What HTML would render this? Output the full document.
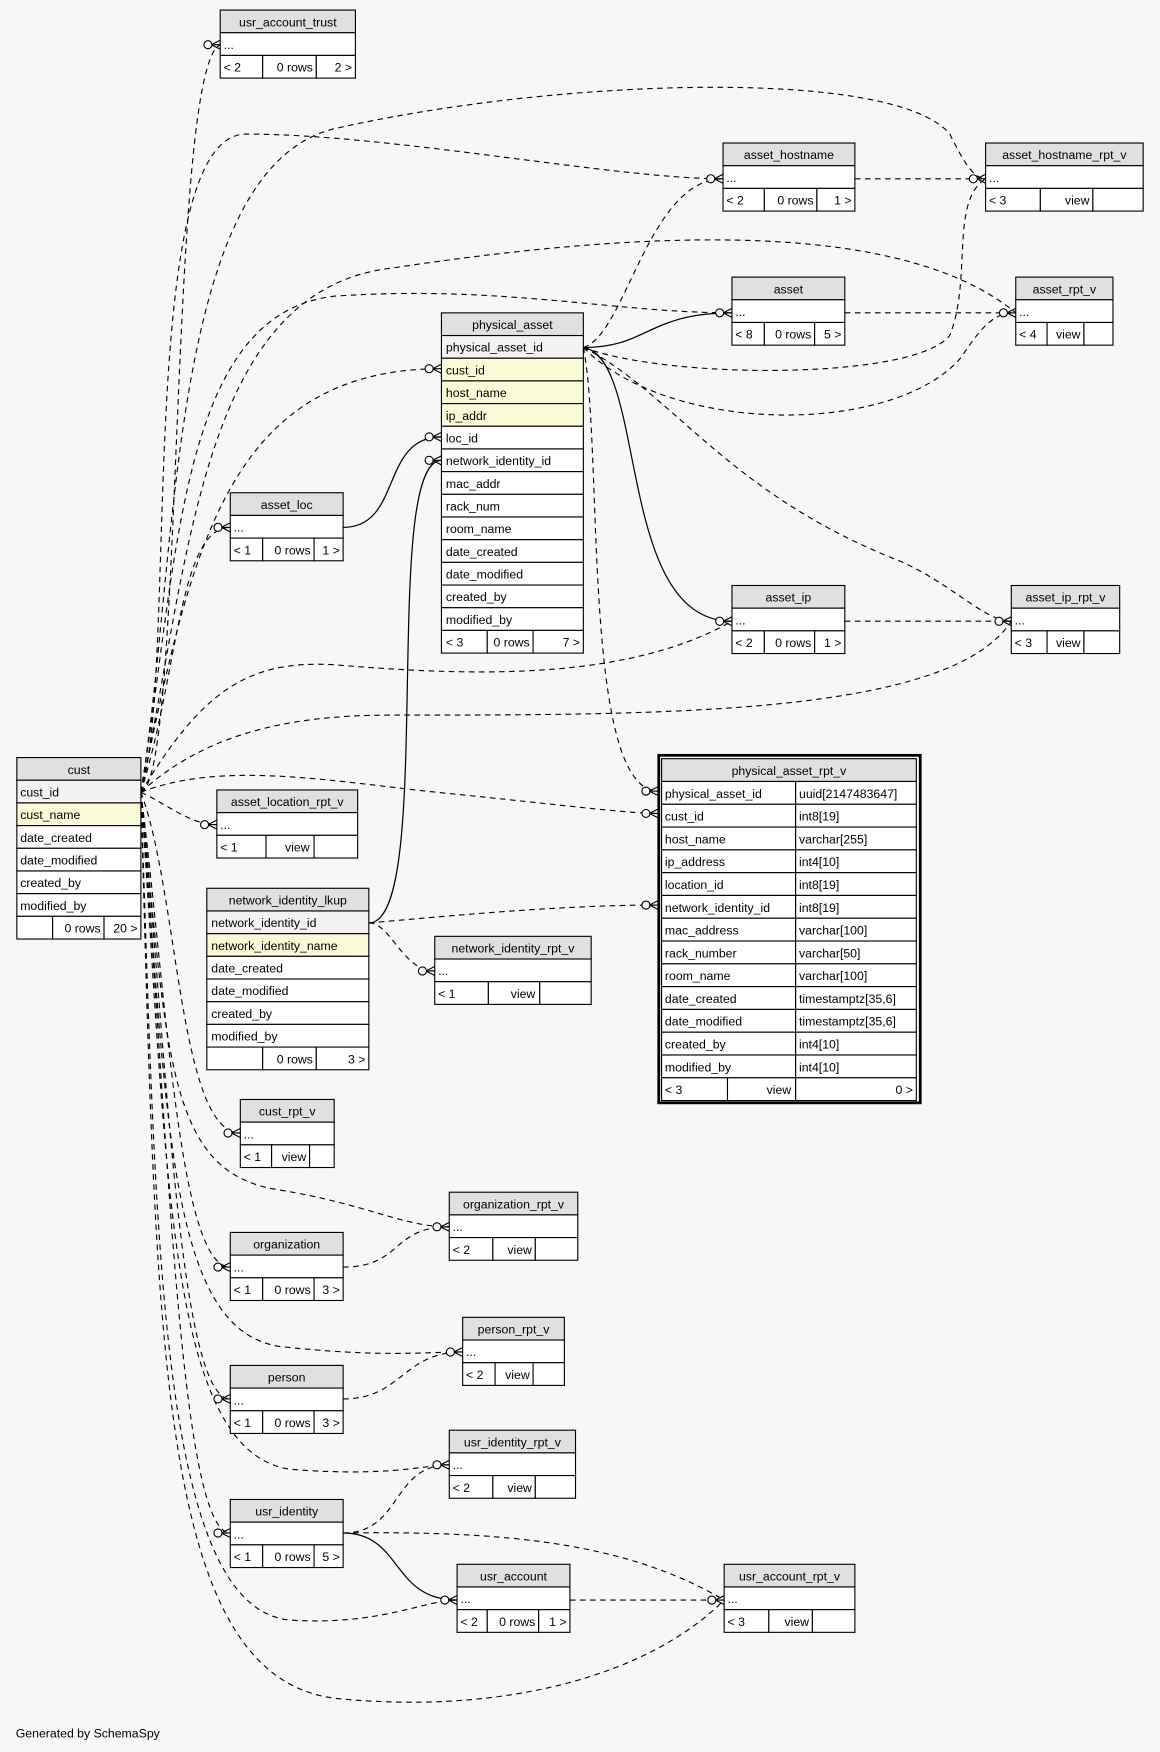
<!DOCTYPE html>
<html><head><meta charset="utf-8"><style>
html,body{margin:0;padding:0;background:#f7f7f7;}
svg{display:block}
text{font-family:"Liberation Sans",Arial,sans-serif;font-size:11px;fill:#000}
.h{fill:#e0e0e0;stroke:#000;stroke-width:1}
.w{fill:#fff;stroke:#000;stroke-width:1}
.k{fill:#f2f2f2;stroke:#000;stroke-width:1}
.y{fill:#fafad6;stroke:#000;stroke-width:1}
.d{fill:none;stroke:#000;stroke-width:1;stroke-dasharray:5,4}
.s{fill:none;stroke:#000;stroke-width:1.1}
.c{text-anchor:middle}
.e{text-anchor:end}
</style></head><body>
<svg width="1160" height="1752" viewBox="0 0 1038 1568" xmlns="http://www.w3.org/2000/svg">
<defs>
<g id="cf"><line x1="-8" y1="0" x2="0" y2="-4" stroke="#000"/><line x1="-8" y1="0" x2="0" y2="4" stroke="#000"/><line x1="-8" y1="0" x2="0" y2="0" stroke="#000"/><circle cx="-11" cy="0" r="3.6" fill="#fff" stroke="#000"/></g>
</defs>
<rect width="1038" height="1568" fill="#f7f7f7"/>

<g class="edges">
<path class="d" d="M126,709 C165,700 150,60 197,40"/>
<path class="d" d="M126,709 C160,600 120,120 220,120 C350,120 550,160 647,160"/>
<path class="d" d="M126,709 C160,500 150,150 300,115 C500,70 800,60 850,120 C860,140 870,160 882,160"/>
<path class="d" d="M126,709 C160,500 160,280 300,265 C450,255 550,280 655,280"/>
<path class="d" d="M126,709 C170,500 180,260 350,240 C550,210 800,190 909,280"/>
<path class="d" d="M126,709 C170,500 200,330 395,330"/>
<path class="d" d="M126,709 C160,600 160,472 206,472"/>
<path class="d" d="M126,709 C180,620 220,590 300,595 C420,605 560,610 655,556"/>
<path class="d" d="M126,709 C180,660 250,640 350,640 C600,640 850,640 905,556"/>
<path class="d" d="M126,709 C200,680 300,700 400,710 C500,720 560,728 589,728"/>
<path class="d" d="M126,709 C150,720 170,738 194,738"/>
<path class="d" d="M126,709 C160,800 160,1014 215,1014"/>
<path class="d" d="M126,709 C150,950 150,1050 250,1065 C330,1078 360,1098 402,1098"/>
<path class="d" d="M126,709 C150,900 160,1134 206,1134"/>
<path class="d" d="M126,709 C150,1000 150,1190 250,1205 C340,1215 380,1210 414,1210"/>
<path class="d" d="M126,709 C150,950 160,1252 206,1252"/>
<path class="d" d="M126,709 C150,1050 150,1300 260,1315 C350,1322 380,1311 402,1311"/>
<path class="d" d="M126,709 C150,1000 160,1372 206,1372"/>
<path class="d" d="M126,709 C140,1100 140,1440 260,1450 C340,1455 380,1432 409,1432"/>
<path class="d" d="M126,709 C140,1200 140,1500 300,1520 C450,1535 580,1500 648,1432"/>
<path class="s" d="M522,311 C580,311 580,280 655,280"/>
<path class="s" d="M522,311 C580,320 550,556 655,556"/>
<path class="d" d="M522,311 C560,300 580,160 647,160"/>
<path class="d" d="M522,311 C600,340 820,340 850,300 C870,250 850,180 882,160"/>
<path class="d" d="M522,311 C600,390 800,390 860,320 C880,290 890,280 909,280"/>
<path class="d" d="M522,311 C600,350 650,440 800,500 C850,520 880,556 905,556"/>
<path class="d" d="M522,311 C540,400 520,708 589,708"/>
<path class="s" d="M307,472 C360,472 340,391 395,391"/>
<path class="s" d="M330,826 C390,826 340,412 395,412"/>
<path class="d" d="M330,826 C400,820 500,810 589,810"/>
<path class="d" d="M330,826 C350,826 360,869 389,869"/>
<path class="d" d="M765,160 L882,160"/>
<path class="d" d="M756,280 L909,280"/>
<path class="d" d="M756,556 L905,556"/>
<path class="d" d="M307,1134 C360,1134 350,1098 402,1098"/>
<path class="d" d="M307,1252 C360,1252 360,1210 414,1210"/>
<path class="d" d="M307,1372 C360,1372 350,1311 402,1311"/>
<path class="s" d="M307,1372 C360,1372 350,1432 409,1432"/>
<path class="d" d="M307,1372 C450,1370 560,1380 648,1432"/>
<path class="d" d="M510,1432 L648,1432"/>
</g>
<g>
<use href="#cf" x="197" y="40"/><use href="#cf" x="647" y="160"/><use href="#cf" x="882" y="160"/>
<use href="#cf" x="655" y="280"/><use href="#cf" x="909" y="280"/><use href="#cf" x="395" y="330"/>
<use href="#cf" x="206" y="472"/><use href="#cf" x="655" y="556"/><use href="#cf" x="905" y="556"/>
<use href="#cf" x="589" y="728"/><use href="#cf" x="194" y="738"/><use href="#cf" x="215" y="1014"/>
<use href="#cf" x="402" y="1098"/><use href="#cf" x="206" y="1134"/><use href="#cf" x="414" y="1210"/>
<use href="#cf" x="206" y="1252"/><use href="#cf" x="402" y="1311"/><use href="#cf" x="206" y="1372"/>
<use href="#cf" x="409" y="1432"/><use href="#cf" x="648" y="1432"/><use href="#cf" x="395" y="391"/>
<use href="#cf" x="395" y="412"/><use href="#cf" x="589" y="708"/><use href="#cf" x="589" y="810"/>
<use href="#cf" x="389" y="869"/>
</g>

<g>
<rect class="h" x="197" y="9" width="121" height="20.3"/><text class="c" x="257.5" y="23.5">usr_account_trust</text>
<rect class="w" x="197" y="29.3" width="121" height="20.3"/><text x="200" y="43.8">...</text>
<rect class="w" x="197" y="49.6" width="38" height="20.3"/><rect class="w" x="235" y="49.6" width="48" height="20.3"/><rect class="w" x="283" y="49.6" width="35" height="20.3"/>
<text x="200" y="64.1">&lt; 2</text><text class="e" x="280" y="64.1">0 rows</text><text class="e" x="315" y="64.1">2 &gt;</text>
</g>
<g>
<rect class="h" x="647" y="128" width="118" height="20.3"/><text class="c" x="706" y="142.5">asset_hostname</text>
<rect class="w" x="647" y="148.3" width="118" height="20.3"/><text x="650" y="162.8">...</text>
<rect class="w" x="647" y="168.6" width="37" height="20.3"/><rect class="w" x="684" y="168.6" width="47" height="20.3"/><rect class="w" x="731" y="168.6" width="34" height="20.3"/>
<text x="650" y="183.1">&lt; 2</text><text class="e" x="728" y="183.1">0 rows</text><text class="e" x="762" y="183.1">1 &gt;</text>
</g>
<g>
<rect class="h" x="882" y="128" width="141" height="20.3"/><text class="c" x="952.5" y="142.5">asset_hostname_rpt_v</text>
<rect class="w" x="882" y="148.3" width="141" height="20.3"/><text x="885" y="162.8">...</text>
<rect class="w" x="882" y="168.6" width="49" height="20.3"/><rect class="w" x="931" y="168.6" width="47" height="20.3"/><rect class="w" x="978" y="168.6" width="45" height="20.3"/>
<text x="885" y="183.1">&lt; 3</text><text class="e" x="975" y="183.1">view</text>
</g>
<g>
<rect class="h" x="655" y="248" width="101" height="20.3"/><text class="c" x="705.5" y="262.5">asset</text>
<rect class="w" x="655" y="268.3" width="101" height="20.3"/><text x="658" y="282.8">...</text>
<rect class="w" x="655" y="288.6" width="29" height="20.3"/><rect class="w" x="684" y="288.6" width="45" height="20.3"/><rect class="w" x="729" y="288.6" width="27" height="20.3"/>
<text x="658" y="303.1">&lt; 8</text><text class="e" x="726" y="303.1">0 rows</text><text class="e" x="753" y="303.1">5 &gt;</text>
</g>
<g>
<rect class="h" x="909" y="248" width="87" height="20.3"/><text class="c" x="952.5" y="262.5">asset_rpt_v</text>
<rect class="w" x="909" y="268.3" width="87" height="20.3"/><text x="912" y="282.8">...</text>
<rect class="w" x="909" y="288.6" width="28" height="20.3"/><rect class="w" x="937" y="288.6" width="33" height="20.3"/><rect class="w" x="970" y="288.6" width="26" height="20.3"/>
<text x="912" y="303.1">&lt; 4</text><text class="e" x="967" y="303.1">view</text>
</g>
<g>
<rect class="h" x="206" y="441" width="101" height="20.3"/><text class="c" x="256.5" y="455.5">asset_loc</text>
<rect class="w" x="206" y="461.3" width="101" height="20.3"/><text x="209" y="475.8">...</text>
<rect class="w" x="206" y="481.6" width="29" height="20.3"/><rect class="w" x="235" y="481.6" width="46" height="20.3"/><rect class="w" x="281" y="481.6" width="26" height="20.3"/>
<text x="209" y="496.1">&lt; 1</text><text class="e" x="278" y="496.1">0 rows</text><text class="e" x="304" y="496.1">1 &gt;</text>
</g>
<g>
<rect class="h" x="655" y="524" width="101" height="20.3"/><text class="c" x="705.5" y="538.5">asset_ip</text>
<rect class="w" x="655" y="544.3" width="101" height="20.3"/><text x="658" y="558.8">...</text>
<rect class="w" x="655" y="564.6" width="29" height="20.3"/><rect class="w" x="684" y="564.6" width="45" height="20.3"/><rect class="w" x="729" y="564.6" width="27" height="20.3"/>
<text x="658" y="579.1">&lt; 2</text><text class="e" x="726" y="579.1">0 rows</text><text class="e" x="753" y="579.1">1 &gt;</text>
</g>
<g>
<rect class="h" x="905" y="524" width="97" height="20.3"/><text class="c" x="953.5" y="538.5">asset_ip_rpt_v</text>
<rect class="w" x="905" y="544.3" width="97" height="20.3"/><text x="908" y="558.8">...</text>
<rect class="w" x="905" y="564.6" width="32" height="20.3"/><rect class="w" x="937" y="564.6" width="33" height="20.3"/><rect class="w" x="970" y="564.6" width="32" height="20.3"/>
<text x="908" y="579.1">&lt; 3</text><text class="e" x="967" y="579.1">view</text>
</g>
<g>
<rect class="h" x="194" y="707" width="126" height="20.3"/><text class="c" x="257" y="721.5">asset_location_rpt_v</text>
<rect class="w" x="194" y="727.3" width="126" height="20.3"/><text x="197" y="741.8">...</text>
<rect class="w" x="194" y="747.6" width="44" height="20.3"/><rect class="w" x="238" y="747.6" width="43" height="20.3"/><rect class="w" x="281" y="747.6" width="39" height="20.3"/>
<text x="197" y="762.1">&lt; 1</text><text class="e" x="277" y="762.1">view</text>
</g>
<g>
<rect class="h" x="389" y="838" width="140" height="20.3"/><text class="c" x="459" y="852.5">network_identity_rpt_v</text>
<rect class="w" x="389" y="858.3" width="140" height="20.3"/><text x="392" y="872.8">...</text>
<rect class="w" x="389" y="878.6" width="48" height="20.3"/><rect class="w" x="437" y="878.6" width="46" height="20.3"/><rect class="w" x="483" y="878.6" width="46" height="20.3"/>
<text x="392" y="893.1">&lt; 1</text><text class="e" x="479" y="893.1">view</text>
</g>
<g>
<rect class="h" x="215" y="984" width="84" height="20.3"/><text class="c" x="257" y="998.5">cust_rpt_v</text>
<rect class="w" x="215" y="1004.3" width="84" height="20.3"/><text x="218" y="1018.8">...</text>
<rect class="w" x="215" y="1024.6" width="28" height="20.3"/><rect class="w" x="243" y="1024.6" width="34" height="20.3"/><rect class="w" x="277" y="1024.6" width="22" height="20.3"/>
<text x="218" y="1039.1">&lt; 1</text><text class="e" x="274" y="1039.1">view</text>
</g>
<g>
<rect class="h" x="402" y="1067" width="115" height="20.3"/><text class="c" x="459.5" y="1081.5">organization_rpt_v</text>
<rect class="w" x="402" y="1087.3" width="115" height="20.3"/><text x="405" y="1101.8">...</text>
<rect class="w" x="402" y="1107.6" width="39" height="20.3"/><rect class="w" x="441" y="1107.6" width="38" height="20.3"/><rect class="w" x="479" y="1107.6" width="38" height="20.3"/>
<text x="405" y="1122.1">&lt; 2</text><text class="e" x="476" y="1122.1">view</text>
</g>
<g>
<rect class="h" x="206" y="1103" width="101" height="20.3"/><text class="c" x="256.5" y="1117.5">organization</text>
<rect class="w" x="206" y="1123.3" width="101" height="20.3"/><text x="209" y="1137.8">...</text>
<rect class="w" x="206" y="1143.6" width="29" height="20.3"/><rect class="w" x="235" y="1143.6" width="46" height="20.3"/><rect class="w" x="281" y="1143.6" width="26" height="20.3"/>
<text x="209" y="1158.1">&lt; 1</text><text class="e" x="278" y="1158.1">0 rows</text><text class="e" x="304" y="1158.1">3 &gt;</text>
</g>
<g>
<rect class="h" x="414" y="1179" width="91" height="20.3"/><text class="c" x="459.5" y="1193.5">person_rpt_v</text>
<rect class="w" x="414" y="1199.3" width="91" height="20.3"/><text x="417" y="1213.8">...</text>
<rect class="w" x="414" y="1219.6" width="29" height="20.3"/><rect class="w" x="443" y="1219.6" width="34" height="20.3"/><rect class="w" x="477" y="1219.6" width="28" height="20.3"/>
<text x="417" y="1234.1">&lt; 2</text><text class="e" x="474" y="1234.1">view</text>
</g>
<g>
<rect class="h" x="206" y="1222" width="101" height="20.3"/><text class="c" x="256.5" y="1236.5">person</text>
<rect class="w" x="206" y="1242.3" width="101" height="20.3"/><text x="209" y="1256.8">...</text>
<rect class="w" x="206" y="1262.6" width="29" height="20.3"/><rect class="w" x="235" y="1262.6" width="46" height="20.3"/><rect class="w" x="281" y="1262.6" width="26" height="20.3"/>
<text x="209" y="1277.1">&lt; 1</text><text class="e" x="278" y="1277.1">0 rows</text><text class="e" x="304" y="1277.1">3 &gt;</text>
</g>
<g>
<rect class="h" x="402" y="1280" width="113" height="20.3"/><text class="c" x="458.5" y="1294.5">usr_identity_rpt_v</text>
<rect class="w" x="402" y="1300.3" width="113" height="20.3"/><text x="405" y="1314.8">...</text>
<rect class="w" x="402" y="1320.6" width="39" height="20.3"/><rect class="w" x="441" y="1320.6" width="38" height="20.3"/><rect class="w" x="479" y="1320.6" width="36" height="20.3"/>
<text x="405" y="1335.1">&lt; 2</text><text class="e" x="476" y="1335.1">view</text>
</g>
<g>
<rect class="h" x="206" y="1342" width="101" height="20.3"/><text class="c" x="256.5" y="1356.5">usr_identity</text>
<rect class="w" x="206" y="1362.3" width="101" height="20.3"/><text x="209" y="1376.8">...</text>
<rect class="w" x="206" y="1382.6" width="29" height="20.3"/><rect class="w" x="235" y="1382.6" width="46" height="20.3"/><rect class="w" x="281" y="1382.6" width="26" height="20.3"/>
<text x="209" y="1397.1">&lt; 1</text><text class="e" x="278" y="1397.1">0 rows</text><text class="e" x="304" y="1397.1">5 &gt;</text>
</g>
<g>
<rect class="h" x="409" y="1400" width="101" height="20.3"/><text class="c" x="459.5" y="1414.5">usr_account</text>
<rect class="w" x="409" y="1420.3" width="101" height="20.3"/><text x="412" y="1434.8">...</text>
<rect class="w" x="409" y="1440.6" width="27" height="20.3"/><rect class="w" x="436" y="1440.6" width="46" height="20.3"/><rect class="w" x="482" y="1440.6" width="28" height="20.3"/>
<text x="412" y="1455.1">&lt; 2</text><text class="e" x="479" y="1455.1">0 rows</text><text class="e" x="507" y="1455.1">1 &gt;</text>
</g>
<g>
<rect class="h" x="648" y="1400" width="117" height="20.3"/><text class="c" x="706.5" y="1414.5">usr_account_rpt_v</text>
<rect class="w" x="648" y="1420.3" width="117" height="20.3"/><text x="651" y="1434.8">...</text>
<rect class="w" x="648" y="1440.6" width="40" height="20.3"/><rect class="w" x="688" y="1440.6" width="39" height="20.3"/><rect class="w" x="727" y="1440.6" width="38" height="20.3"/>
<text x="651" y="1455.1">&lt; 3</text><text class="e" x="724" y="1455.1">view</text>
</g>

<g>
<rect class="h" x="15" y="678" width="111" height="20.3"/><text class="c" x="70.5" y="692.5">cust</text>
<rect class="k" x="15" y="698.3" width="111" height="20.3"/><text x="18" y="712.8">cust_id</text>
<rect class="y" x="15" y="718.6" width="111" height="20.3"/><text x="18" y="733.1">cust_name</text>
<rect class="w" x="15" y="738.9" width="111" height="20.3"/><text x="18" y="753.4">date_created</text>
<rect class="w" x="15" y="759.2" width="111" height="20.3"/><text x="18" y="773.7">date_modified</text>
<rect class="w" x="15" y="779.5" width="111" height="20.3"/><text x="18" y="794">created_by</text>
<rect class="w" x="15" y="799.8" width="111" height="20.3"/><text x="18" y="814.3">modified_by</text>
<rect class="w" x="15" y="820.1" width="32" height="20.3"/><rect class="w" x="47" y="820.1" width="46" height="20.3"/><rect class="w" x="93" y="820.1" width="33" height="20.3"/>
<text class="e" x="90" y="834.6">0 rows</text><text class="e" x="123" y="834.6">20 &gt;</text>
</g>

<g>
<rect class="h" x="395" y="280" width="127" height="20.3"/><text class="c" x="458.5" y="294.5">physical_asset</text>
<rect class="k" x="395" y="300.3" width="127" height="20.3"/><text x="399" y="314.8">physical_asset_id</text>
<rect class="y" x="395" y="320.6" width="127" height="20.3"/><text x="399" y="335.1">cust_id</text>
<rect class="y" x="395" y="340.9" width="127" height="20.3"/><text x="399" y="355.4">host_name</text>
<rect class="y" x="395" y="361.2" width="127" height="20.3"/><text x="399" y="375.7">ip_addr</text>
<rect class="w" x="395" y="381.5" width="127" height="20.3"/><text x="399" y="396">loc_id</text>
<rect class="w" x="395" y="401.8" width="127" height="20.3"/><text x="399" y="416.3">network_identity_id</text>
<rect class="w" x="395" y="422.1" width="127" height="20.3"/><text x="399" y="436.6">mac_addr</text>
<rect class="w" x="395" y="442.4" width="127" height="20.3"/><text x="399" y="456.9">rack_num</text>
<rect class="w" x="395" y="462.7" width="127" height="20.3"/><text x="399" y="477.2">room_name</text>
<rect class="w" x="395" y="483" width="127" height="20.3"/><text x="399" y="497.5">date_created</text>
<rect class="w" x="395" y="503.3" width="127" height="20.3"/><text x="399" y="517.8">date_modified</text>
<rect class="w" x="395" y="523.6" width="127" height="20.3"/><text x="399" y="538.1">created_by</text>
<rect class="w" x="395" y="543.9" width="127" height="20.3"/><text x="399" y="558.4">modified_by</text>
<rect class="w" x="395" y="564.2" width="41" height="20.3"/><rect class="w" x="436" y="564.2" width="41" height="20.3"/><rect class="w" x="477" y="564.2" width="45" height="20.3"/>
<text x="399" y="578.7">&lt; 3</text><text class="e" x="474" y="578.7">0 rows</text><text class="e" x="519" y="578.7">7 &gt;</text>
</g>

<g>
<rect class="h" x="185" y="795" width="145" height="20.3"/><text class="c" x="257.5" y="809.5">network_identity_lkup</text>
<rect class="k" x="185" y="815.3" width="145" height="20.3"/><text x="189" y="829.8">network_identity_id</text>
<rect class="y" x="185" y="835.6" width="145" height="20.3"/><text x="189" y="850.1">network_identity_name</text>
<rect class="w" x="185" y="855.9" width="145" height="20.3"/><text x="189" y="870.4">date_created</text>
<rect class="w" x="185" y="876.2" width="145" height="20.3"/><text x="189" y="890.7">date_modified</text>
<rect class="w" x="185" y="896.5" width="145" height="20.3"/><text x="189" y="911">created_by</text>
<rect class="w" x="185" y="916.8" width="145" height="20.3"/><text x="189" y="931.3">modified_by</text>
<rect class="w" x="185" y="937.1" width="50" height="20.3"/><rect class="w" x="235" y="937.1" width="48" height="20.3"/><rect class="w" x="283" y="937.1" width="47" height="20.3"/>
<text class="e" x="280" y="951.6">0 rows</text><text class="e" x="327" y="951.6">3 &gt;</text>
</g>

<g>
<rect x="589.5" y="676" width="234" height="311" fill="#fff" stroke="#000" stroke-width="2.5"/>
<rect class="h" x="592" y="679" width="228" height="20.4"/><text class="c" x="706" y="693.5">physical_asset_rpt_v</text>
<rect class="w" x="592" y="699.4" width="120" height="20.4"/><rect class="w" x="712" y="699.4" width="108" height="20.4"/><text x="595" y="714">physical_asset_id</text><text x="715" y="714">uuid[2147483647]</text>
<rect class="w" x="592" y="719.8" width="120" height="20.4"/><rect class="w" x="712" y="719.8" width="108" height="20.4"/><text x="595" y="734.4">cust_id</text><text x="715" y="734.4">int8[19]</text>
<rect class="w" x="592" y="740.2" width="120" height="20.4"/><rect class="w" x="712" y="740.2" width="108" height="20.4"/><text x="595" y="754.8">host_name</text><text x="715" y="754.8">varchar[255]</text>
<rect class="w" x="592" y="760.6" width="120" height="20.4"/><rect class="w" x="712" y="760.6" width="108" height="20.4"/><text x="595" y="775.2">ip_address</text><text x="715" y="775.2">int4[10]</text>
<rect class="w" x="592" y="781" width="120" height="20.4"/><rect class="w" x="712" y="781" width="108" height="20.4"/><text x="595" y="795.6">location_id</text><text x="715" y="795.6">int8[19]</text>
<rect class="w" x="592" y="801.4" width="120" height="20.4"/><rect class="w" x="712" y="801.4" width="108" height="20.4"/><text x="595" y="816">network_identity_id</text><text x="715" y="816">int8[19]</text>
<rect class="w" x="592" y="821.8" width="120" height="20.4"/><rect class="w" x="712" y="821.8" width="108" height="20.4"/><text x="595" y="836.4">mac_address</text><text x="715" y="836.4">varchar[100]</text>
<rect class="w" x="592" y="842.2" width="120" height="20.4"/><rect class="w" x="712" y="842.2" width="108" height="20.4"/><text x="595" y="856.8">rack_number</text><text x="715" y="856.8">varchar[50]</text>
<rect class="w" x="592" y="862.6" width="120" height="20.4"/><rect class="w" x="712" y="862.6" width="108" height="20.4"/><text x="595" y="877.2">room_name</text><text x="715" y="877.2">varchar[100]</text>
<rect class="w" x="592" y="883" width="120" height="20.4"/><rect class="w" x="712" y="883" width="108" height="20.4"/><text x="595" y="897.6">date_created</text><text x="715" y="897.6">timestamptz[35,6]</text>
<rect class="w" x="592" y="903.4" width="120" height="20.4"/><rect class="w" x="712" y="903.4" width="108" height="20.4"/><text x="595" y="918">date_modified</text><text x="715" y="918">timestamptz[35,6]</text>
<rect class="w" x="592" y="923.8" width="120" height="20.4"/><rect class="w" x="712" y="923.8" width="108" height="20.4"/><text x="595" y="938.4">created_by</text><text x="715" y="938.4">int4[10]</text>
<rect class="w" x="592" y="944.2" width="120" height="20.4"/><rect class="w" x="712" y="944.2" width="108" height="20.4"/><text x="595" y="958.8">modified_by</text><text x="715" y="958.8">int4[10]</text>
<rect class="w" x="592" y="964.6" width="59" height="20.4"/><rect class="w" x="651" y="964.6" width="61" height="20.4"/><rect class="w" x="712" y="964.6" width="108" height="20.4"/>
<text x="595" y="979.2">&lt; 3</text><text class="e" x="708" y="979.2">view</text><text class="e" x="817" y="979.2">0 &gt;</text>
</g>

<text x="14" y="1555">Generated by SchemaSpy</text>
</svg>
</body></html>
